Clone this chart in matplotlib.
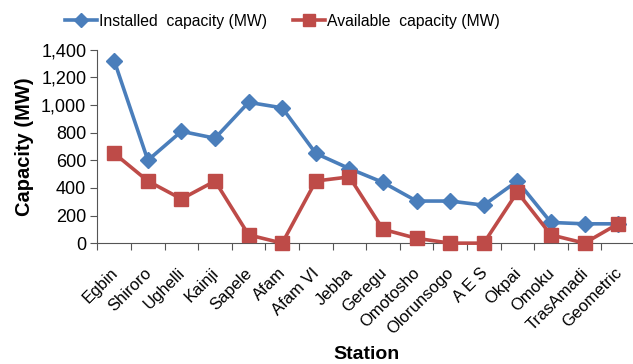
import matplotlib
matplotlib.use("Agg")
import matplotlib.pyplot as plt
from matplotlib.ticker import FuncFormatter
from matplotlib.transforms import ScaledTranslation

stations = ["Egbin", "Shiroro", "Ughelli", "Kainji", "Sapele", "Afam", "Afam VI", "Jebba",
            "Geregu", "Omotosho", "Olorunsogo", "A E S", "Okpai", "Omoku", "TrasAmadi", "Geometric"]
installed = [1320, 600, 810, 760, 1020, 980, 650, 540, 440, 305, 305, 275, 450, 150, 140, 140]
available = [650, 450, 320, 450, 60, 0, 450, 480, 100, 35, 0, 0, 370, 60, 0, 140]

plt.rcParams['font.family'] = ['Liberation Sans', 'DejaVu Sans']

fig = plt.figure(figsize=(6.33, 3.64), dpi=100)
ax = fig.add_axes([0.154, 0.332, 0.849, 0.531])

x = list(range(len(stations)))
blue = '#4a7ebb'
red = '#be4b48'
ax.plot(x, installed, color=blue, lw=2.6, marker='D', ms=8, label='Installed  capacity (MW)', clip_on=False, zorder=3)
ax.plot(x, available, color=red, lw=2.6, marker='s', ms=9.5, label='Available  capacity (MW)', clip_on=False, zorder=4)

ax.set_xlim(-0.5, len(stations) - 0.5)
ax.set_ylim(0, 1400)
ax.set_yticks(range(0, 1401, 200))
ax.yaxis.set_major_formatter(FuncFormatter(lambda v, p: f"{int(v):,}"))
ax.set_xticks([i - 0.5 for i in range(len(stations) + 1)])
ax.set_xticklabels([])
ax.set_xticks(x, minor=True)
ax.set_xticklabels(stations, minor=True, rotation=45, ha='right', rotation_mode='anchor', fontsize=12)
ax.tick_params(axis='x', which='minor', length=0, pad=16)
ax.tick_params(axis='x', which='major', length=5, direction='out', color='#555555')
ax.tick_params(axis='y', length=5, direction='out', color='#555555', labelsize=13, pad=3)
shift = ScaledTranslation(-4 / 100, 0, fig.dpi_scale_trans)
for lab in ax.get_xticklabels(minor=True):
    lab.set_transform(lab.get_transform() + shift)

for s in ['top', 'right']:
    ax.spines[s].set_visible(False)
for s in ['left', 'bottom']:
    ax.spines[s].set_color('#555555')

ax.set_ylabel('Capacity (MW)', fontsize=14.5, fontweight='bold', labelpad=5)
ax.set_xlabel('Station', fontsize=14, fontweight='bold', labelpad=6)

fig.legend(loc='center', bbox_to_anchor=(0.446, 0.942), ncol=2, frameon=False,
           prop={'size': 11.3},
           handlelength=2.0, columnspacing=1.7, handletextpad=0.13, markerscale=0.9)

fig.savefig('out.png', dpi=100)
